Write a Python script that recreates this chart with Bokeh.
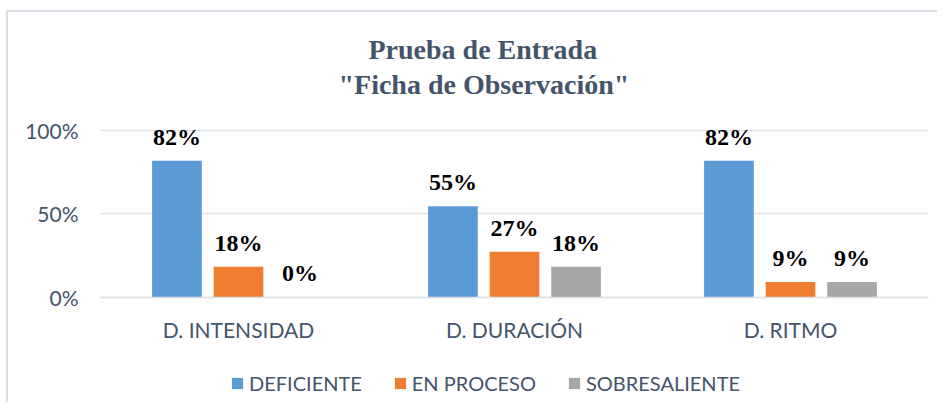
from bokeh.plotting import figure
from bokeh.models import (FactorRange, Range1d, FixedTicker, ColumnDataSource,
                          LabelSet, Legend, LegendItem, Title)
from bokeh.transform import dodge
from bokeh.core.properties import value
from bokeh.embed import file_html
from bokeh.resources import INLINE

# ---- data ----
categories = ["D. INTENSIDAD", "D. DURACIÓN", "D. RITMO"]
series_names = ["DEFICIENTE", "EN PROCESO", "SOBRESALIENTE"]
deficiente = [0.818, 0.545, 0.818]
en_proceso = [0.182, 0.273, 0.091]
sobresaliente = [0.0, 0.182, 0.091]
y_ticks = [0, 0.5, 1.0]
y_tick_labels = ["0%", "50%", "100%"]
title_line1 = "Prueba de Entrada"
title_line2 = "\"Ficha de Observación\""

colors = ["#5B9BD5", "#EF7E32", "#A7A7A7"]
text_col = "#44546A"
grid_col = "#DCE1E8"

def pct(vals):
    return ["%d%%" % round(v * 100) for v in vals]

source = ColumnDataSource(dict(
    cat=categories,
    deficiente=deficiente, en_proceso=en_proceso, sobresaliente=sobresaliente,
    deficiente_lbl=pct(deficiente), en_proceso_lbl=pct(en_proceso),
    sobresaliente_lbl=pct(sobresaliente),
))

p = figure(x_range=FactorRange(*categories), y_range=Range1d(-0.6145, 1.15),
           width=931, height=392, output_backend="svg", toolbar_location=None,
           min_border_left=92, min_border_right=11, min_border_top=93,
           min_border_bottom=5)
p.styles = {"border-top": "2px solid #D9DEE6", "border-left": "2px solid #D9DEE6",
            "margin-top": "10px", "margin-left": "6px"}

p.outline_line_color = None
p.background_fill_color = "white"
p.border_fill_color = "white"

keys = ["deficiente", "en_proceso", "sobresaliente"]
offsets = [-0.223, 0.0, 0.223]
renderers = []
for key, color, off in zip(keys, colors, offsets):
    r = p.vbar(x=dodge("cat", off, range=p.x_range), top=key, width=0.18,
               source=source, fill_color=color, line_color=None)
    renderers.append(r)
    lbl = LabelSet(x=dodge("cat", off, range=p.x_range), y=key, text=key + "_lbl",
                   source=source, text_align="center", text_baseline="alphabetic",
                   y_offset=16, text_font=value("Liberation Serif"),
                   text_font_size="24px", text_font_style="bold", text_color="black")
    p.add_layout(lbl)

# grid
p.xgrid.grid_line_color = None
p.ygrid.grid_line_color = grid_col
p.ygrid.grid_line_width = 1.5
p.yaxis.ticker = FixedTicker(ticks=y_ticks)
p.yaxis.major_label_overrides = {t: l for t, l in zip(y_ticks, y_tick_labels)}

# axes
p.yaxis.axis_line_color = None
p.yaxis.major_tick_line_color = None
p.yaxis.minor_tick_line_color = None
p.yaxis.major_label_standoff = 16
p.yaxis.major_label_text_font = "Lato"
p.yaxis.major_label_text_font_size = "21px"
p.yaxis.major_label_text_color = text_col

p.xaxis.fixed_location = 0
p.xaxis.axis_line_color = grid_col
p.xaxis.axis_line_width = 1.5
p.xaxis.major_tick_line_color = None
p.xaxis.minor_tick_line_color = None
p.xaxis.major_label_standoff = 14
p.xaxis.major_label_text_font = "Lato"
p.xaxis.major_label_text_font_size = "21px"
p.xaxis.major_label_text_color = text_col

# titles
t2 = Title(text=title_line2, align="left", offset=238, standoff=12,
           text_font="Liberation Serif", text_font_size="28px",
           text_font_style="bold", text_color=text_col)
t1 = Title(text=title_line1, align="left", offset=268, standoff=-8,
           text_font="Liberation Serif", text_font_size="28px",
           text_font_style="bold", text_color=text_col)
p.add_layout(t2, "above")
p.add_layout(t1, "above")

legend = Legend(items=[LegendItem(label=n, renderers=[r]) for n, r in zip(series_names, renderers)],
                orientation="horizontal", location=(130, 4),
                glyph_width=14, glyph_height=14, label_standoff=5, spacing=31,
                padding=0, margin=0, border_line_color=None, background_fill_alpha=0,
                label_text_font="Lato", label_text_font_size="20px",
                label_text_color=text_col)
p.add_layout(legend, "center")

open("out.html", "w").write(file_html(p, INLINE))
